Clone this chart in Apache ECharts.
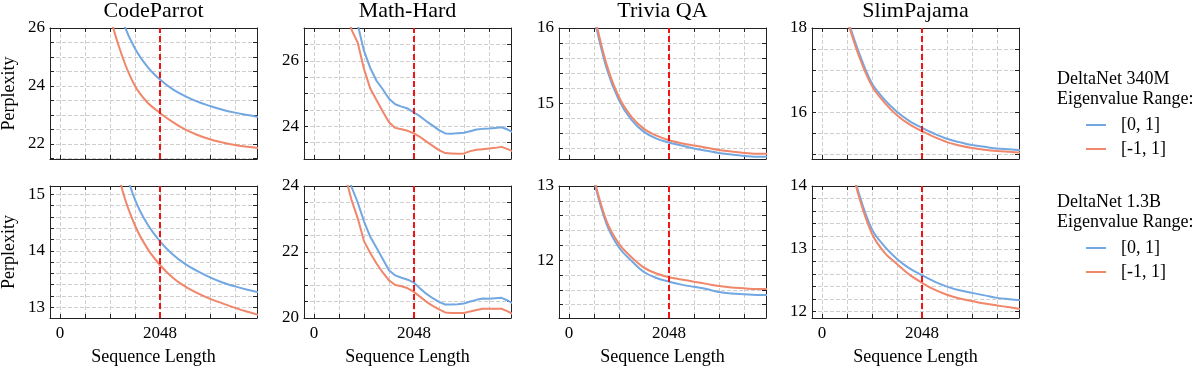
<!DOCTYPE html>
<html>
<head>
<meta charset="utf-8">
<script src="https://cdn.jsdelivr.net/npm/echarts@6/dist/echarts.min.js"></script>
<style>
  html, body { margin: 0; padding: 0; background: #fff; }
  #chart { width: 1196px; height: 369px; }
</style>
</head>
<body>
<div id="chart"></div>
<script>
// 横轴：序列长度
const seqLen = [512, 768, 1024, 1280, 1536, 1792, 2048, 2304, 2560, 2816, 3072, 3328, 3584, 3840, 4096];
const seqLenMath = [640, 768, 896, 1024, 1152, 1280, 1408, 1536, 1664, 1792, 1920, 2048, 2176, 2304,
  2432, 2560, 2688, 2816, 2944, 3072, 3200, 3328, 3456, 3584, 3712, 3840, 3968, 4096];
const xTickValues = [0, 512, 1024, 1536, 2048, 2560, 3072, 3584];
const xLabelValues = [0, 2048];
const trainLen = 2048;

const datasets = ['CodeParrot', 'Math-Hard', 'Trivia QA', 'SlimPajama'];
const models = ['DeltaNet 340M', 'DeltaNet 1.3B'];
const rangeNames = ['[0, 1]', '[-1, 1]'];

// DeltaNet 340M  (Pos = [0, 1], Neg = [-1, 1])
const codeParrot340mPos = [33.5, 30.9, 27.87, 26.26, 25.29, 24.66, 24.22, 23.89, 23.65, 23.46, 23.31, 23.18, 23.08, 23.0, 22.92];
const codeParrot340mNeg = [32.0, 28.9, 26.45, 25.0, 24.0, 23.43, 23.07, 22.76, 22.5, 22.31, 22.16, 22.05, 21.96, 21.9, 21.85];
const mathHard340mPos = [29.0, 28.0, 27.1, 26.3, 25.78, 25.39, 25.13, 24.84, 24.67, 24.6, 24.54, 24.42, 24.3, 24.15,
  24.02, 23.88, 23.78, 23.77, 23.79, 23.8, 23.85, 23.9, 23.92, 23.93, 23.95, 23.97, 23.9, 23.8];
const mathHard340mNeg = [27.8, 26.95, 26.55, 25.75, 25.15, 24.8, 24.45, 24.12, 23.95, 23.91, 23.86, 23.78, 23.67, 23.53,
  23.4, 23.27, 23.18, 23.17, 23.16, 23.17, 23.24, 23.28, 23.3, 23.32, 23.34, 23.37, 23.3, 23.22];
const triviaQa340mPos = [16.15, 15.47, 15.04, 14.78, 14.62, 14.53, 14.48, 14.44, 14.4, 14.37, 14.34, 14.32, 14.3, 14.29, 14.29];
const triviaQa340mNeg = [16.2, 15.52, 15.08, 14.82, 14.66, 14.57, 14.51, 14.47, 14.44, 14.41, 14.38, 14.36, 14.34, 14.33, 14.33];
const slimPajama340mPos = [18.25, 17.38, 16.68, 16.3, 16.01, 15.79, 15.63, 15.49, 15.37, 15.29, 15.22, 15.18, 15.14, 15.12, 15.1];
const slimPajama340mNeg = [18.2, 17.3, 16.62, 16.23, 15.93, 15.71, 15.55, 15.41, 15.29, 15.21, 15.15, 15.11, 15.08, 15.06, 15.04];

// DeltaNet 1.3B
const codeParrot13bPos = [21.0, 18.8, 16.72, 15.6, 14.91, 14.47, 14.17, 13.94, 13.77, 13.64, 13.53, 13.44, 13.37, 13.31, 13.26];
const codeParrot13bNeg = [21.0, 18.1, 16.1, 15.07, 14.45, 14.04, 13.75, 13.53, 13.37, 13.25, 13.15, 13.07, 12.99, 12.92, 12.86];
const mathHard13bPos = [24.6, 23.97, 23.5, 22.93, 22.46, 22.13, 21.79, 21.45, 21.29, 21.22, 21.16, 21.07, 20.89, 20.73,
  20.6, 20.49, 20.41, 20.41, 20.42, 20.44, 20.5, 20.55, 20.59, 20.58, 20.6, 20.61, 20.53, 20.43];
const mathHard13bNeg = [24.3, 23.58, 23.02, 22.33, 21.97, 21.65, 21.38, 21.14, 21.0, 20.96, 20.9, 20.79, 20.64, 20.49,
  20.37, 20.26, 20.17, 20.15, 20.15, 20.15, 20.2, 20.24, 20.28, 20.28, 20.28, 20.28, 20.2, 20.1];
const triviaQa13bPos = [13.07, 12.49, 12.17, 11.99, 11.84, 11.76, 11.71, 11.67, 11.64, 11.61, 11.57, 11.55, 11.54, 11.53, 11.53];
const triviaQa13bNeg = [13.1, 12.53, 12.22, 12.04, 11.9, 11.82, 11.77, 11.74, 11.71, 11.68, 11.65, 11.63, 11.62, 11.61, 11.61];
const slimPajama13bPos = [14.6, 13.85, 13.31, 13.04, 12.84, 12.69, 12.58, 12.48, 12.4, 12.34, 12.3, 12.26, 12.22, 12.2, 12.18];
const slimPajama13bNeg = [14.6, 13.8, 13.24, 12.94, 12.76, 12.59, 12.46, 12.35, 12.27, 12.21, 12.17, 12.13, 12.1, 12.07, 12.04];

// 纵轴刻度标签
const yLabels340m = [[22, 24, 26], [24, 26], [15, 16], [16, 18]];
const yLabels13b = [[13, 14, 15], [20, 22, 24], [12, 13], [12, 13, 14]];

const panelData = [
  [[seqLen, codeParrot340mPos, codeParrot340mNeg], [seqLenMath, mathHard340mPos, mathHard340mNeg],
   [seqLen, triviaQa340mPos, triviaQa340mNeg], [seqLen, slimPajama340mPos, slimPajama340mNeg]],
  [[seqLen, codeParrot13bPos, codeParrot13bNeg], [seqLenMath, mathHard13bPos, mathHard13bNeg],
   [seqLen, triviaQa13bPos, triviaQa13bNeg], [seqLen, slimPajama13bPos, slimPajama13bNeg]]
];
const yLabels = [yLabels340m, yLabels13b];

// 布局 / 坐标范围
const colLeft = [50, 304, 559, 812];
const rowTop = [28, 186];
const panelW = 207;
const panelH = [131, 132];
const xMin = -204.8, xMax = 4035;
const yRanges = [
  [[21.48, 26, 0.5], [23, 27, 0.5], [14.26, 16, 0.2], [14.89, 18, 0.5]],
  [[12.81, 15.15, 0.2], [20, 24, 0.5], [11.22, 13, 0.2], [11.9, 14, 0.2]]
];

const font = '"Liberation Serif", "Times New Roman", serif';
const colors = ['#72a7e1', '#f0866a'];
const axisColor = '#222';

function steps(min, max, step) {
  const out = [];
  for (let v = Math.ceil(min / step - 1e-6) * step; v <= max + 1e-6; v += step) {
    out.push(Math.round(v * 100) / 100);
  }
  return out;
}

const grid = [], xAxis = [], yAxis = [], series = [], title = [];

for (let r = 0; r < 2; r++) {
  for (let c = 0; c < 4; c++) {
    const gi = grid.length;
    grid.push({ left: colLeft[c], top: rowTop[r], width: panelW, height: panelH[r], outerBoundsMode: 'none' });
    const [yMin, yMax, yStep] = yRanges[r][c];
    const yTicks = steps(yMin, yMax, yStep);
    const isBottom = r === 1;

    const baseX = {
      type: 'value', gridIndex: gi, min: xMin, max: xMax,
      axisLine: { show: true, onZero: false, lineStyle: { color: axisColor, width: 1 } },
      axisTick: { show: true, inside: true, length: 4, customValues: xTickValues, lineStyle: { color: axisColor } }
    };
    xAxis.push(Object.assign({}, baseX, {
      position: 'bottom',
      axisLabel: {
        show: isBottom, customValues: xLabelValues, color: '#000', fontFamily: font, fontSize: 17, margin: 7,
        formatter: function (v) { return String(v); }
      },
      splitLine: { show: true, lineStyle: { color: '#cfcfcf', type: [4, 2], width: 1 } },
      name: isBottom ? 'Sequence Length' : '',
      nameLocation: 'middle', nameGap: 30,
      nameTextStyle: { color: '#000', fontFamily: font, fontSize: 18 }
    }));
    xAxis.push(Object.assign({}, baseX, {
      position: 'top', axisLabel: { show: false }, splitLine: { show: false }
    }));

    const baseY = {
      type: 'value', gridIndex: gi, min: yMin, max: yMax,
      axisLine: { show: true, onZero: false, lineStyle: { color: axisColor, width: 1 } },
      axisTick: { show: true, inside: true, length: 4, customValues: yTicks, lineStyle: { color: axisColor } }
    };
    yAxis.push(Object.assign({}, baseY, {
      position: 'left',
      axisLabel: {
        show: true, customValues: yLabels[r][c], color: '#000', fontFamily: font, fontSize: 17, margin: 5,
        formatter: function (v) { return String(v); }
      },
      splitLine: { show: true, lineStyle: { color: '#cfcfcf', type: [4, 2], width: 1 } },
      name: c === 0 ? 'Perplexity' : '',
      nameLocation: 'middle', nameGap: 32,
      nameTextStyle: { color: '#000', fontFamily: font, fontSize: 18 }
    }));
    yAxis.push(Object.assign({}, baseY, {
      position: 'right', axisLabel: { show: false }, splitLine: { show: false }
    }));

    const [xs, pos, neg] = panelData[r][c];
    const isMath = c === 1;
    [pos, neg].forEach((vals, k) => {
      const s = {
        name: rangeNames[k], type: 'line',
        xAxisIndex: gi * 2, yAxisIndex: gi * 2,
        data: xs.map((x, i) => [x, vals[i]]),
        showSymbol: false, smooth: isMath ? false : 0.35,
        clip: true, silent: true,
        lineStyle: { color: colors[k], width: 2 },
        itemStyle: { color: colors[k] }
      };
      if (k === 1) {
        // 训练长度 2048 的红色虚线
        s.markLine = {
          silent: true, symbol: ['none', 'none'], z: 10,
          label: { show: false },
          lineStyle: { color: '#f01414', type: [6, 3], width: 2 },
          data: [{ xAxis: trainLen }]
        };
      }
      series.push(s);
    });

    if (r === 0) {
      title.push({
        text: datasets[c], left: colLeft[c] + panelW / 2, top: 0, padding: 0, textAlign: 'center',
        textStyle: { fontFamily: font, fontSize: 22, fontWeight: 'normal', color: '#000' }
      });
    }
  }
}

// 右侧图例
const graphic = [];
const legendTop = [79, 202];
models.forEach((m, b) => {
  const y0 = legendTop[b];
  const txt = (text, x, y) => ({
    type: 'text', x: x, y: y,
    style: { text: text, fill: '#000', font: '18px "Liberation Serif"', align: 'left', verticalAlign: 'middle' }
  });
  graphic.push(txt(m, 1057, y0));
  graphic.push(txt('Eigenvalue Range:', 1057, y0 + 20));
  rangeNames.forEach((n, k) => {
    const y = y0 + 46 + k * 24;
    graphic.push({ type: 'line', shape: { x1: 1086, y1: y, x2: 1106, y2: y }, style: { stroke: colors[k], lineWidth: 2 } });
    graphic.push(txt(n, 1121, y));
  });
});

const chart = echarts.init(document.getElementById('chart'), null, { renderer: 'canvas' });
chart.setOption({
  backgroundColor: '#fff',
  animation: false,
  title: title,
  grid: grid,
  xAxis: xAxis,
  yAxis: yAxis,
  series: series,
  graphic: graphic
});
window.addEventListener('resize', function () {
  chart.resize();
});
</script>
</body>
</html>
